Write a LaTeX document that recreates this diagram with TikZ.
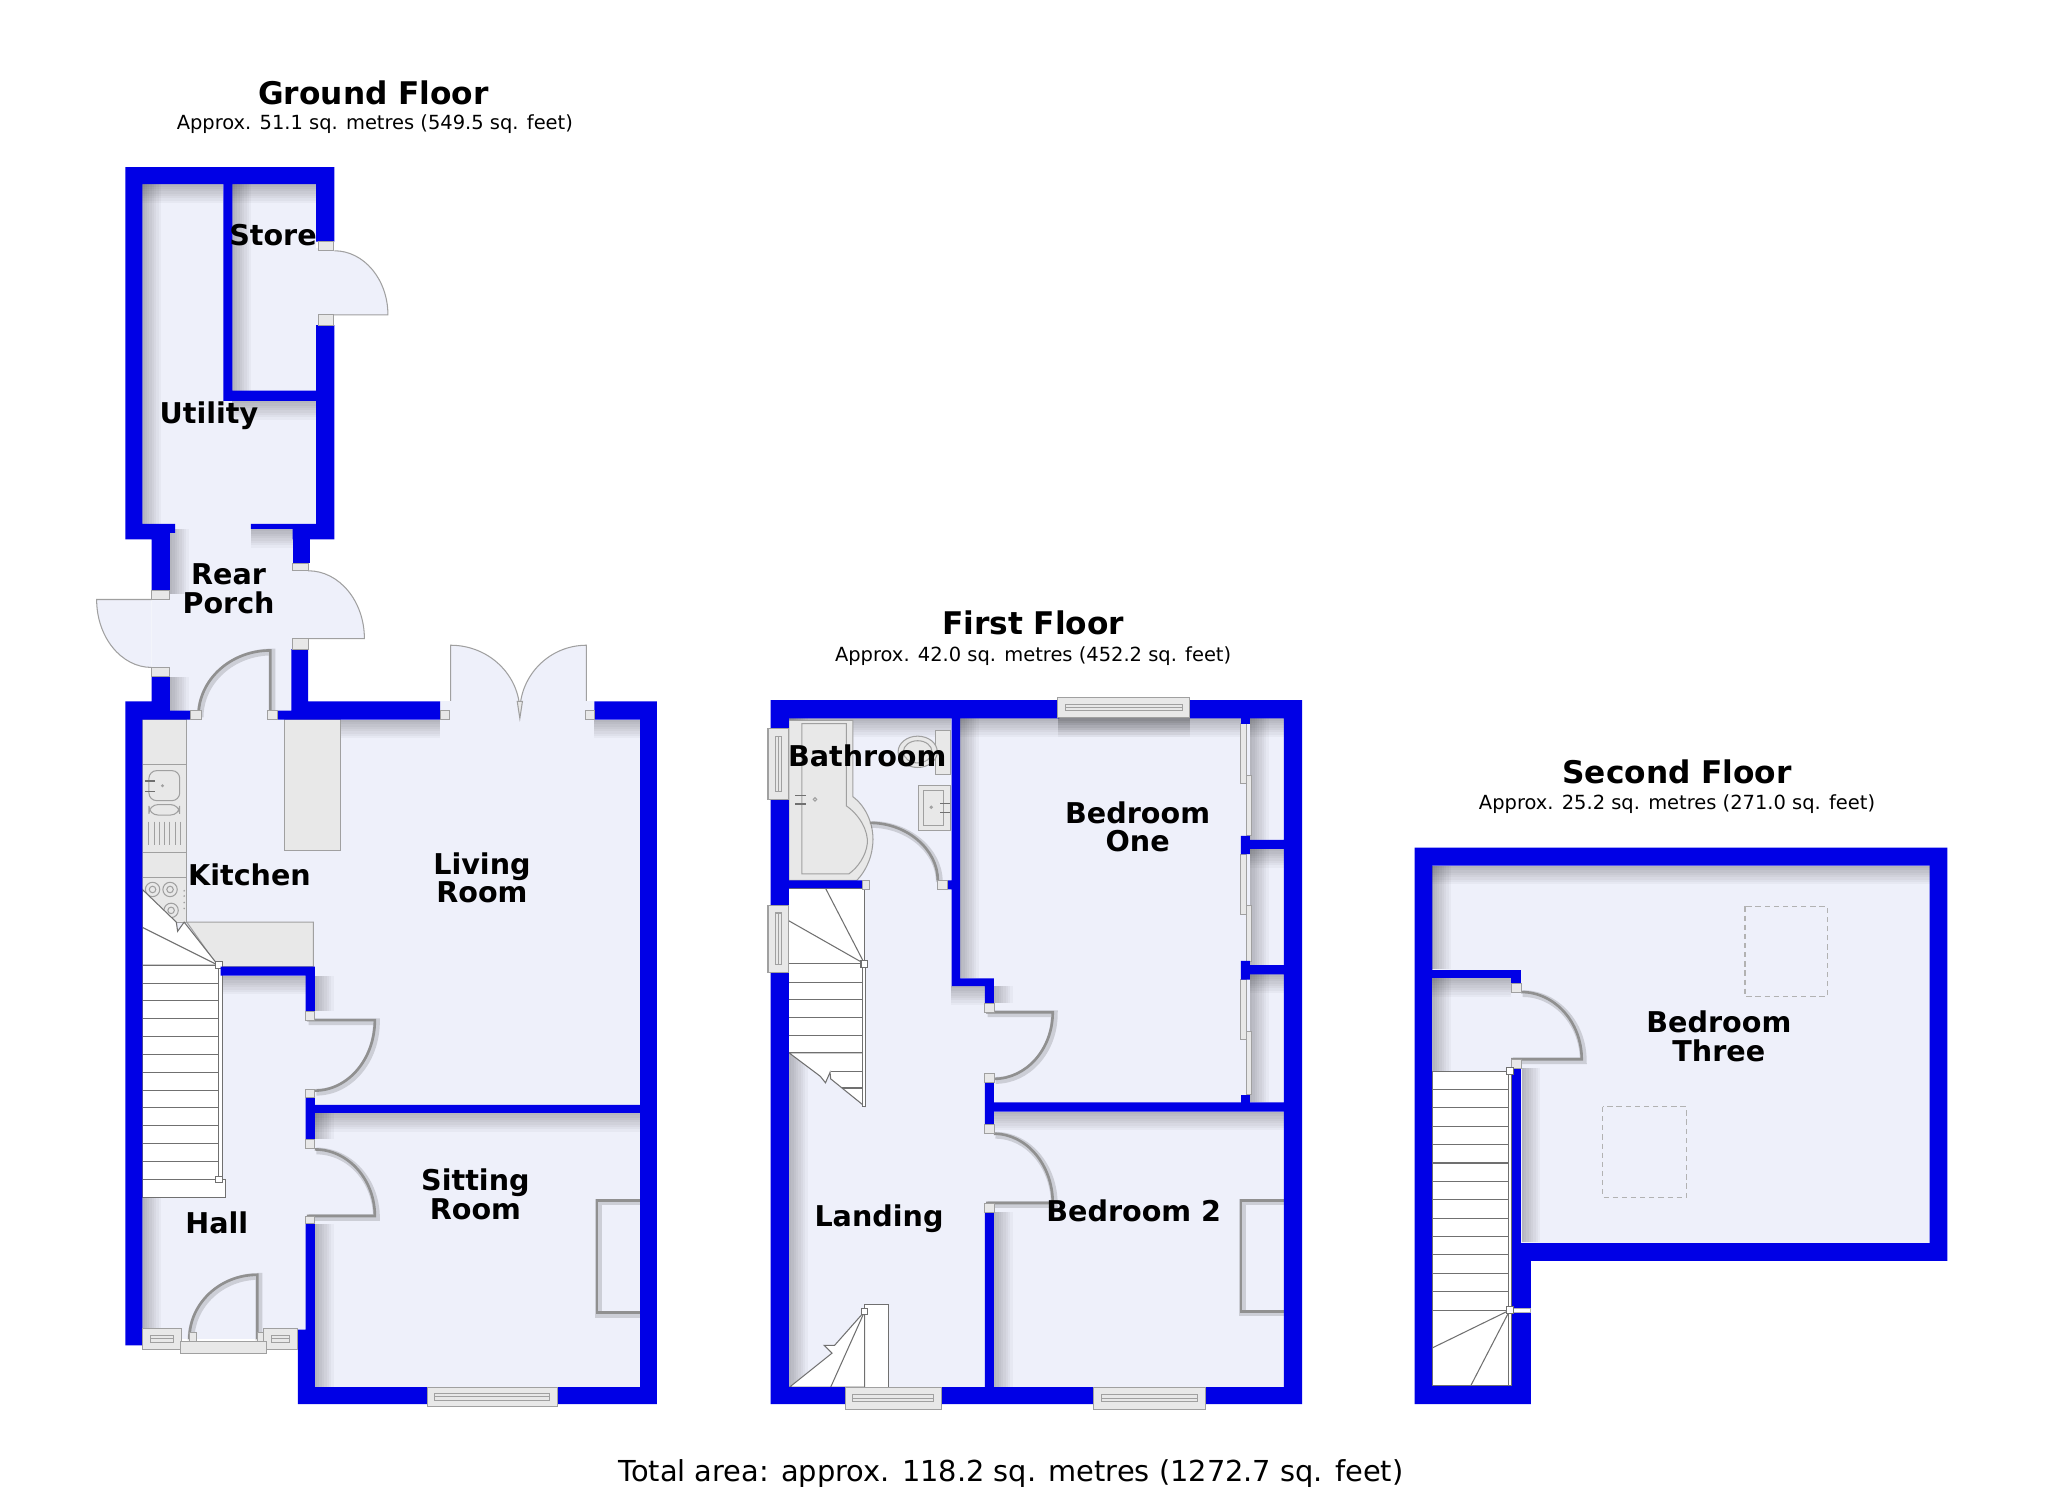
\documentclass[tikz,border=0pt]{standalone}
\usepackage{fontspec}
\setmainfont{DejaVu Sans}
\usetikzlibrary{calc}
\definecolor{wallblue}{HTML}{0000E6}
\definecolor{floorc}{HTML}{EEF0FA}
\definecolor{unitc}{HTML}{E8E8E8}
\definecolor{linec}{HTML}{A0A0A0}
\definecolor{stairline}{HTML}{707070}
\tikzset{
  wall/.style={fill=wallblue},
  flr/.style={fill=floorc},
  unit/.style={fill=unitc,draw=linec,line width=.4pt},
  fix/.style={draw=linec,line width=.4pt},
  tread/.style={draw=stairline,line width=.4pt},
  extd/.style={draw=linec,line width=.4pt},
  intd/.style={draw=linec!90!black,line width=1pt,preaction={draw=black,opacity=.14,line width=2.6pt,transform canvas={shift={(.6pt,-.6pt)}}}},
  roomlabel/.style={font=\fontsize{10.95}{11}\selectfont\bfseries,align=center,inner sep=0pt,text=black},
  floortitle/.style={font=\fontsize{11.95}{13}\selectfont\bfseries,inner sep=0pt},
  floorsub/.style={font=\fontsize{7.45}{8}\selectfont,inner sep=0pt},
  roofl/.style={draw=gray!60,line width=.4pt,dash pattern=on 2pt off 1.5pt},
}
% shadow bands
\newcommand{\shD}[3]{\foreach \k in {1,...,8}{\fill[black,opacity=.032] (#1,#3) rectangle (#2,{#3+1.8*\k});}}
\newcommand{\shR}[3]{\foreach \k in {1,...,8}{\fill[black,opacity=.032] (#3,#1) rectangle ({#3+1.8*\k},#2);}}
% door: hinge, leaf end, arc end, corner, style
\newcommand{\doorleaf}[9]{%
  \fill[flr] (#1,#2) -- (#3,#4) .. controls ($(#3,#4)!.5523!(#7,#8)$) and ($(#5,#6)!.5523!(#7,#8)$) .. (#5,#6) -- cycle;
  \draw[#9] (#1,#2) -- (#3,#4) .. controls ($(#3,#4)!.5523!(#7,#8)$) and ($(#5,#6)!.5523!(#7,#8)$) .. (#5,#6);}
\newcommand{\post}[4]{\fill[unitc,draw=linec,line width=.3pt] (#1,#2) rectangle (#3,#4);}
\newcommand{\winH}[4]{%
  \fill[unitc,draw=linec,line width=.4pt] (#1,#2) rectangle (#3,#4);
  \draw[fix] ({#1+6},{(#2+#4)/2-2.5}) rectangle ({#3-6},{(#2+#4)/2+2.5});
  \draw[fix] ({#1+6},{(#2+#4)/2}) -- ({#3-6},{(#2+#4)/2});}
\newcommand{\winV}[4]{%
  \fill[unitc,draw=linec,line width=.4pt] (#1,#2) rectangle (#3,#4);
  \draw[fix] ({(#1+#3)/2-2.5},{#2+6}) rectangle ({(#1+#3)/2+2.5},{#4-6});
  \draw[fix] ({(#1+#3)/2},{#2+6}) -- ({(#1+#3)/2},{#4-6});}
\newcommand{\newel}[2]{\fill[white,draw=stairline,line width=.4pt] ({#1-2.5},{#2-2.5}) rectangle ({#1+2.5},{#2+2.5});}
\begin{document}
\begin{tikzpicture}[x=.5pt,y=-.5pt]
\useasboundingbox (0,0) rectangle (1568,1140);
\fill[white] (0,0) rectangle (1568,1140);

%%%%%%%%%%%%%%%% GROUND FLOOR floors
\fill[flr] (109,141) rectangle (242,401);
\fill[flr] (242,190) rectangle (256,249);
\fill[flr] (116,400) rectangle (236,551);
\fill[flr] (109,544) -- (490,544) -- (490,1062) -- (234,1062) -- (234,1025) -- (109,1025) -- cycle;
% shadows
\shD{109}{171}{141} \shD{178}{242}{141} \shR{141}{401}{109} \shR{141}{299}{178} \shD{178}{242}{307}
\shR{405}{455}{130} \shD{192}{232}{405} \shR{518}{551}{130}
\shR{551}{1025}{109}
\shD{236}{337}{551} \shD{455}{490}{551}
\shD{169}{234}{747} \shR{747}{774}{241} \shR{852}{872}{241} \shD{241}{490}{852} \shR{937}{1062}{241}
% exterior doors
\doorleaf{250}{241}{297}{241}{256}{192}{297}{192}{extd}
\doorleaf{230}{489}{279}{489}{236}{437}{279}{437}{extd}
\doorleaf{116}{459}{74}{459}{116}{511}{74}{511}{extd}
\doorleaf{345}{545}{345}{494}{398}{545}{398}{494}{extd}
\doorleaf{449}{545}{449}{494}{398}{545}{398}{494}{extd}
\fill[flr] (337,537) rectangle (455,551);
\draw[fix,fill=unitc] (396,537) -- (400,537) -- (398,550) -- cycle;
% kitchen units
\fill[unit] (109,551) rectangle (143,585);
\fill[unit] (109,585) rectangle (143,653);
\draw[fix,rounded corners=3pt] (114,590) rectangle (137.6,613);
\draw[fix,rounded corners=3.5pt] (114,616) rectangle (137.6,624);
\draw[stairline,line width=.6pt] (111,598) -- (119,598) (111,606) -- (119,606);
\fill[linec] (124.4,601.6) circle (1.2);
\foreach \dx in {114,118,122,126,130,134,138}{\draw[fix] (\dx,629) -- (\dx,647);}
\fill[unit] (109,653) rectangle (143,672);
\fill[unit] (109,672) rectangle (143,706);
\foreach \cx/\cy in {116.8/681,130.2/681,131/697}{\draw[fix] (\cx,\cy) circle (5.5) circle (2.5);}
\foreach \dy in {682,686,691,695.5}{\fill[linec] (141,\dy) circle (.7);}
\fill[unit] (143,706) -- (240,706) -- (240,740) -- (167,740) -- cycle;
\fill[unit] (218,551) rectangle (261,651);
% stairs
\fill[white,draw=stairline,line width=.4pt] (109,681) -- (135,706) -- (136,713) -- (141,706) -- (167,739) -- (109,739) -- cycle;
\draw[tread] (109,710) -- (167,739);
\fill[white,draw=stairline,line width=.4pt] (109,739) rectangle (167,903);
\fill[white,draw=stairline,line width=.4pt] (109,903) rectangle (172.5,917);
\foreach \i in {0,...,12}{\draw[tread] (109,{739+13.65*\i}) -- (167,{739+13.65*\i});}
\fill[white,draw=stairline,line width=.4pt] (167,739) rectangle (170,903);
\newel{167.5}{739} \newel{167.5}{903}
% interior doors
\doorleaf{207}{550}{207}{498}{152}{548}{152}{498}{intd}
\doorleaf{235}{781}{287}{781}{241}{835}{287}{835}{intd}
\doorleaf{235}{931}{287}{931}{241}{880}{287}{880}{intd}
\doorleaf{197}{1025}{197}{976}{145}{1025}{145}{976}{intd}
% chimney
\fill[flr] (457,919) rectangle (490,1005);
\draw[intd] (490,919) -- (457,919) -- (457,1005) -- (490,1005);
% walls
\fill[wall] (96,128) -- (256,128) -- (256,185) -- (242,185) -- (242,141) -- (178,141) -- (178,299) -- (242,299) -- (242,249) -- (256,249) -- (256,413) -- (224,413) -- (224,405) -- (192,405) -- (192,401) -- (242,401) -- (242,307) -- (171,307) -- (171,141) -- (109,141) -- (109,401) -- (134,401) -- (134,408) -- (130,408) -- (130,452) -- (116,452) -- (116,413) -- (96,413) -- cycle;
\fill[wall] (224,413) rectangle (237,431);
\fill[wall] (96,537) -- (116,537) -- (116,518) -- (130,518) -- (130,544) -- (146,544) -- (146,551) -- (109,551) -- (109,1030) -- (96,1030) -- cycle;
\fill[wall] (212,544) -- (223,544) -- (223,497) -- (236,497) -- (236,537) -- (337,537) -- (337,551) -- (212,551) -- cycle;
\fill[wall] (455,537) -- (503,537) -- (503,1075) -- (228,1075) -- (228,1018) -- (234,1018) -- (234,937) -- (241,937) -- (241,1062) -- (490,1062) -- (490,852) -- (241,852) -- (241,872) -- (234,872) -- (234,840) -- (241,840) -- (241,846) -- (490,846) -- (490,551) -- (455,551) -- cycle;
\fill[wall] (169,740) -- (241,740) -- (241,774) -- (234,774) -- (234,747) -- (169,747) -- cycle;
% posts
\post{244}{185}{255}{192} \post{244}{241}{255}{249}
\post{224}{431}{236}{437} \post{224}{489}{236}{497}
\post{116}{452}{130}{459} \post{116}{511}{130}{518}
\post{146}{544}{154}{551} \post{205}{544}{212}{551}
\post{337}{544}{344}{551} \post{448}{544}{455}{551}
\post{234}{774}{241}{781} \post{234}{834}{241}{840} \post{234}{872}{241}{879} \post{234}{931}{241}{937}
% front
\winH{109}{1017}{139}{1033} \winH{202}{1017}{228}{1033}
\fill[unit] (138,1027) rectangle (204,1036);
\post{145}{1020}{150}{1027} \post{197}{1020}{202}{1027}
\winH{327}{1062}{427}{1077}

%%%%%%%%%%%%%%%% FIRST FLOOR
\fill[flr] (604,550) rectangle (983,1062);
\shD{604}{728}{550} \shD{735}{950}{550} \shD{957}{983}{550} \shD{957}{983}{650} \shD{957}{983}{746}
\shR{550}{1062}{604} \shR{550}{749}{735} \shR{755}{768}{761}
\shD{761}{983}{851} \shR{928}{1062}{761} \shR{550}{844}{957}
\shD{728}{754}{755}
% bath
\fill[unit] (604,551.5) -- (653,551.5) -- (653,610) .. controls (664,618) and (670,634) .. (668,648) .. controls (667,658) and (662,668) .. (656,674) -- (604,674) -- cycle;
\draw[fix] (614,554) -- (648,554) -- (648,617) .. controls (658,624) and (665,636) .. (664,646) .. controls (663,655) and (657,664) .. (650,669) -- (614,669) -- cycle;
\draw[stairline,line width=.6pt] (609,609) -- (617,609) (609,615.5) -- (617,615.5);
\draw[fix] (624,612) circle (1.3);
% wc
\fill[unit] (716,559) rectangle (728,593);
\fill[unit] (702.6,575.6) ellipse (15 and 12);
\draw[fix] (702.6,575.6) ellipse (11 and 8.5);
% basin
\fill[unit] (703,601.5) rectangle (728,636);
\draw[fix] (707,605) rectangle (722,632);
\draw[stairline,line width=.4pt] (720,615) -- (727,615) (720,622) -- (727,622);
\draw[fix] (713,618) circle (.9);
% door bath
\draw[intd] (666,630) .. controls (694,630) and (718,650) .. (718,674);
% stairs top
\fill[white,draw=stairline,line width=.4pt] (604,680) rectangle (662,738);
\draw[tread] (632,680) -- (662,738) (604,705) -- (662,738);
\fill[white,draw=stairline,line width=.4pt] (604,738) rectangle (660,806);
\foreach \yy in {738,752,765,779,793,806}{\draw[tread] (604,\yy) -- (660,\yy);}
\fill[white,draw=stairline,line width=.4pt] (604,806) -- (628,824) -- (632,829) -- (635.5,821) -- (636,826) -- (662,847) -- (662,806) -- cycle;
\draw[tread] (636,820) -- (660,820) (645,833) -- (660,833);
\fill[white,draw=stairline,line width=.4pt] (660,738) rectangle (663,847);
\newel{661.7}{738}
% stairs bottom
\fill[white,draw=stairline,line width=.4pt] (662,999) rectangle (680.6,1062);
\fill[white,draw=stairline,line width=.4pt] (604.5,1062) -- (637,1036) -- (631,1030) -- (639,1030) -- (662,1004) -- (662,1062) -- cycle;
\draw[tread] (636,1062) -- (662,1004);
\newel{662}{1004}
% doors
\doorleaf{755}{775}{806}{775}{761}{826}{806}{826}{intd}
\doorleaf{755}{921}{806}{921}{761}{868}{806}{868}{intd}
% chimney
\fill[flr] (950,919) rectangle (983,1004);
\draw[intd] (983,919) -- (950,919) -- (950,1004) -- (983,1004);
% wardrobes sliding
\fill[unit] (950,554) rectangle (954,600);
\fill[unit] (954,594) rectangle (958,640);
\fill[unit] (950,654) rectangle (954,700);
\fill[unit] (954,693) rectangle (958,736);
\fill[unit] (950,750) rectangle (954,796);
\fill[unit] (954,790) rectangle (958,838);
% walls
\fill[wall] (590,536) -- (811,536) -- (811,550) -- (735,550) -- (735,749) -- (761,749) -- (761,768) -- (754,768) -- (754,755) -- (728.5,755) -- (728.5,681) -- (725,681) -- (725,674) -- (728.5,674) -- (728.5,550) -- (604,550) -- (604,674) -- (660,674) -- (660,680) -- (604,680) -- (604,1062) -- (754,1062) -- (754,928) -- (761,928) -- (761,1062) -- (983,1062) -- (983,851) -- (761,851) -- (761,861) -- (754,861) -- (754,829) -- (761,829) -- (761,844) -- (983,844) -- (983,746) -- (957,746) -- (957,750) -- (950,750) -- (950,735.6) -- (957,735.6) -- (957,739) -- (983,739) -- (983,650) -- (957,650) -- (957,654) -- (950,654) -- (950,640) -- (957,640) -- (957,643) -- (983,643) -- (983,550) -- (911,550) -- (911,536) -- (997,536) -- (997,1075) -- (590,1075) -- cycle;
\fill[wall] (950,550) rectangle (957,554);
\fill[wall] (950,838) rectangle (957,845);
% windows & posts
\shD{810}{911}{550}
\winV{588}{558}{604}{612} \winV{588}{693}{604}{744.5}
\winH{810}{534}{911}{549.5}
\winH{647}{1062}{720.6}{1079} \winH{837}{1062}{923}{1079}
\post{660}{674}{666}{681} \post{718}{674}{725}{681}
\post{754}{768}{761}{775} \post{754}{822}{761}{829} \post{754}{861}{761}{868} \post{754}{921}{761}{928}

%%%%%%%%%%%%%%%% SECOND FLOOR
\fill[wall] (1083,649) -- (1491,649) -- (1491,965.4) -- (1172,965.4) -- (1172,1075) -- (1083,1075) -- cycle;
\fill[flr] (1096.6,662.7) -- (1477.4,662.7) -- (1477.4,951.6) -- (1164.6,951.6) -- (1164.6,818) -- (1157,818) -- (1157,753) -- (1164.6,753) -- (1164.6,742.6) -- (1096.6,742.6) -- cycle;
\shD{1096.6}{1477.4}{662.7} \shR{662.7}{742}{1096.6} \shR{818}{951}{1165}
\draw[roofl] (1336,694) rectangle (1399,763);
\draw[roofl] (1227,847.5) rectangle (1291,916.8);
\fill[flr] (1096.6,749) rectangle (1157,820);
\shD{1096.6}{1157}{749} \shR{749}{820}{1096.6}
\fill[white,draw=stairline,line width=.4pt] (1096.6,820) rectangle (1154.6,1061);
\foreach \i in {0,...,13}{\draw[tread] (1096.6,{820+14.08*\i}) -- (1154.6,{820+14.08*\i});}
\draw[tread] (1156,1003) -- (1096.6,1032) (1156,1003) -- (1126,1061);
\fill[white,draw=stairline,line width=.4pt] (1154.6,820) rectangle (1157,1061);
\doorleaf{1157}{811}{1211}{811}{1164.6}{759.5}{1211}{759.5}{intd}
\post{1157}{753}{1164.6}{759.5} \post{1157}{811}{1164.6}{818}
\fill[white,draw=gray!60,line width=.3pt] (1157,1002) rectangle (1172,1004.6);
\newel{1156}{820} \newel{1156}{1003}

%%%%%%%%%%%%%%%% TEXT
\node[floortitle] (gft) at (286,71) {Ground Floor};
\node[floorsub] (gfs) at (287,95) {Approx. 51.1 sq. metres (549.5 sq. feet)};
\node[floortitle] (fft) at (791,477) {First Floor};
\node[floorsub] (ffs) at (791,502) {Approx. 42.0 sq. metres (452.2 sq. feet)};
\node[floortitle] (sft) at (1284,591) {Second Floor};
\node[floorsub] (sfs) at (1284,616) {Approx. 25.2 sq. metres (271.0 sq. feet)};
\node[font=\fontsize{11.05}{12}\selectfont,inner sep=0pt] (tot) at (774,1128) {Total area: approx. 118.2 sq. metres (1272.7 sq. feet)};
\node[roomlabel] (rstore) at (209,180) {Store};
\node[roomlabel] (rutil) at (160,318) {Utility};
\node[roomlabel] (rporch) at (175,451) {Rear\\Porch};
\node[roomlabel] (rkit) at (191,670) {Kitchen};
\node[roomlabel] (rliv) at (369,672) {Living\\Room};
\node[roomlabel] (rhall) at (166,936) {Hall};
\node[roomlabel] (rsit) at (364,914.5) {Sitting\\Room};
\node[roomlabel] (rbath) at (664,579) {Bathroom};
\node[roomlabel] (rbed1) at (871,633) {Bedroom\\One};
\node[roomlabel] (rland) at (673,933) {Landing};
\node[roomlabel] (rbed2) at (868,927) {Bedroom 2};
\node[roomlabel] (rbed3) at (1316,793.5) {Bedroom\\Three};
\end{tikzpicture}
\end{document}
